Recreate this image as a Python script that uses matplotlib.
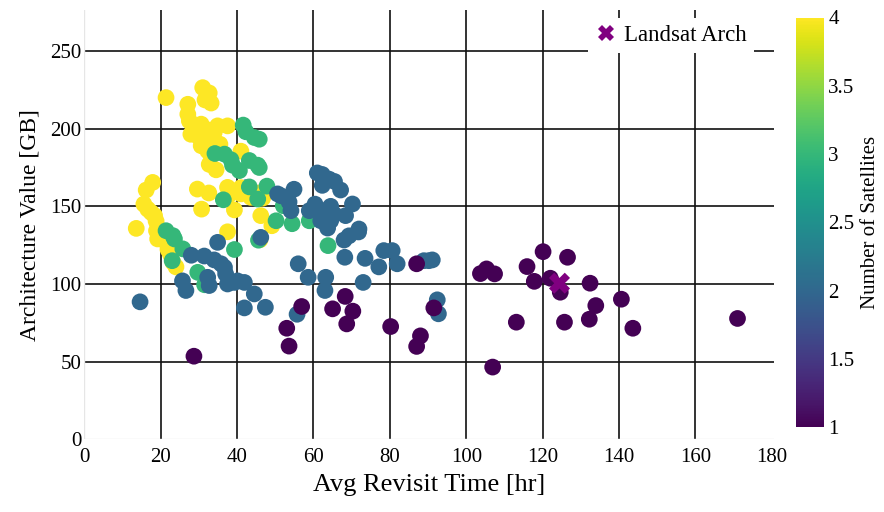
import matplotlib
matplotlib.use("Agg")
import matplotlib.pyplot as plt
import numpy as np
from matplotlib.lines import Line2D

plt.rcParams["font.family"] = ["Liberation Serif", "DejaVu Serif"]

# Architectures grouped by number of satellites: (avg revisit time [hr], value [GB])
sat4_revisit = [21.4, 31.0, 32.7, 31.6, 33.2, 27.1, 27.1, 27.5, 28.4, 30.6, 31.9, 34.9, 37.5,
                27.9, 30.1, 33.2, 34.0, 30.6, 32.3, 33.2, 32.7, 34.5, 41.0, 29.6, 32.6, 37.5,
                37.7, 30.7, 39.3, 41.0, 43.8, 41.0, 43.6, 46.2, 49.1, 37.5, 46.0, 17.9, 16.2,
                15.6, 16.6, 17.5, 18.4, 18.8, 13.6, 18.9, 19.2, 21.0, 21.9, 22.5, 23.2, 24.0,
                45.5, 46.7, 29.5, 35.5]
sat4_value = [220, 226.4, 223, 218.5, 216.5, 215.7, 209.3, 205, 201.8, 202.9, 199.6, 201.8, 201.8,
              196.4, 194.3, 195.4, 197.5, 189, 185.7, 182.5, 177, 173.5, 185.5, 161.1, 158.6, 162.2,
              157, 148.2, 147.7, 162, 159.6, 158, 155.8, 144, 137.5, 133.6, 128.5, 165.4, 160.5,
              151.4, 148.2, 146.1, 144, 140.5, 135.8, 134.3, 129, 128, 122.3, 119.3, 114, 111,
              158.5, 155.3, 199, 190]

sat3_revisit = [41.6, 42.3, 44.5, 45.8, 34.2, 36.7, 38.4, 38.8, 40.6, 43.2, 45.4, 45.8, 43.2,
                47.8, 36.4, 45.4, 52.1, 50.2, 54.4, 58.9, 63.8, 39.3, 45.6, 21.4, 23.2, 23.6,
                25.8, 23.0, 29.7, 31.5]
sat3_value = [202.3, 198, 194.3, 193.2, 184, 183.6, 180, 176.5, 173, 179.5, 176.5, 175, 162.5,
              163, 154.2, 154.7, 150.4, 140.7, 138.8, 140.7, 124.7, 122.2, 128.2, 134.3, 131.1, 129,
              122.6, 115, 107.5, 99.5]

sat2_revisit = [14.6, 25.7, 26.6, 34.9, 28.0, 31.4, 34.0, 35.8, 36.7, 37.0, 32.3, 32.7, 37.5,
                40.1, 41.9, 44.5, 41.9, 47.4, 46.2, 50.6, 51.5, 54.9, 53.6, 54.1, 58.9,
                60.4, 62.8, 64.5, 65.4, 63.7, 61.9, 64.5, 63.7, 68.4, 61.0, 62.3, 64.1, 65.5,
                62.3, 67.1, 70.2, 71.9, 71.8, 68.0, 69.3, 68.2, 73.5, 77.1, 78.4, 80.6, 81.9,
                56.0, 58.6, 63.2, 63.0, 73.0, 55.7, 88.9, 90.2, 91.1, 92.4, 92.7, 39.3]
sat2_value = [88.5, 102, 95.8, 126.8, 118.5, 118, 115.5, 113, 110.7, 106.5, 104.3, 99, 100,
              102, 101, 93.6, 84.6, 85, 130, 158, 156.8, 161, 152.8, 147.2, 147.2,
              151.4, 147.2, 150, 145, 143, 140.7, 140.7, 136, 144, 171.5, 170.5, 167.5, 166,
              163.5, 160.5, 151.5, 135.4, 133.5, 128.3, 131, 117.2, 116.5, 111, 121.5, 121.5, 113,
              113, 104.3, 104.3, 95.8, 101, 80.5, 115, 115, 115.5, 89.8, 80.8, 101]

# two-satellite design sitting beneath the dense 3/4-satellite cluster
sat2_under_revisit = [42.4]
sat2_under_value = [162]

sat1_revisit = [28.7, 53.0, 53.6, 56.9, 65.0, 68.3, 70.3, 68.7, 80.2, 87.0, 88.0, 87.0, 91.5,
                103.7, 105.3, 107.4, 115.9, 120.1, 126.5, 117.8, 122.0, 124.6, 132.4, 133.9,
                140.6, 113.1, 125.7, 132.2, 143.6, 171.0, 106.9]
sat1_value = [53.5, 71.5, 60, 85.5, 84, 92, 82.5, 74.3, 72.6, 113, 66.6, 59.8, 84.6,
              106.7, 109.7, 106.5, 111.2, 120.8, 117.2, 101.7, 103.7, 94.7, 100.5, 86.1,
              90.2, 75.4, 75.4, 77.3, 71.5, 77.8, 46.5]

landsat_revisit = [124.4]
landsat_value = [100.5]

revisit = np.array(sat2_under_revisit + sat4_revisit + sat3_revisit + sat2_revisit + sat1_revisit)
value = np.array(sat2_under_value + sat4_value + sat3_value + sat2_value + sat1_value)
n_sats = np.array([2] * len(sat2_under_revisit) + [4] * len(sat4_revisit)
                  + [3] * len(sat3_revisit) + [2] * len(sat2_revisit)
                  + [1] * len(sat1_revisit))

W, H = 884, 512
fig = plt.figure(figsize=(W / 100, H / 100), dpi=100)
ax = fig.add_axes([84.3 / W, 1 - 439.3 / H, (773.8 - 84.3) / W, (439.3 - 10) / H])

ax.set_xlim(0, 180.5)
ax.set_ylim(0, 276.4)
for s in ax.spines.values():
    s.set_visible(False)

# grid
for gx in range(20, 180, 20):
    ax.axvline(gx, color="#111111", lw=1.2, zorder=0)
for gy in range(50, 300, 50):
    ax.axhline(gy, color="#111111", lw=1.2, zorder=0)
ax.axvline(0, color="#e6e6e6", lw=1.0, zorder=0)
ax.axhline(0, color="#e6e6e6", lw=1.0, zorder=0)

sc = ax.scatter(revisit, value, c=n_sats, cmap="viridis", vmin=1, vmax=4,
                s=145, edgecolors="none", zorder=2)
ax.scatter(landsat_revisit, landsat_value, marker="X", color="#800080", s=230,
           edgecolors="none", zorder=3)

ax.set_xticks(range(0, 181, 20))
ax.set_yticks(range(0, 251, 50))
ax.tick_params(axis="x", length=0, labelsize=15, pad=6)
ax.tick_params(axis="y", length=0, labelsize=15, pad=2)
ax.set_xlabel("Avg Revisit Time [hr]", fontsize=19, labelpad=5)
ax.set_ylabel("Architecture Value [GB]", fontsize=17, labelpad=7)

# legend
handle = Line2D([], [], marker="X", color="#800080", linestyle="none", markersize=12,
                markeredgewidth=0)
leg = fig.legend([handle], ["Landsat Arch"], loc="upper right",
                 bbox_to_anchor=(754 / W, 1 - 18 / H), frameon=True, fancybox=False,
                 framealpha=1, facecolor="white", edgecolor="none", fontsize=16.5,
                 handletextpad=0.3, borderpad=0.3, handlelength=1.0, borderaxespad=0)

# colorbar
cax = fig.add_axes([796 / W, 1 - 427 / H, 28 / W, (427 - 17.5) / H])
cb = fig.colorbar(sc, cax=cax, ticks=[1, 1.5, 2, 2.5, 3, 3.5, 4])
cb.ax.set_yticklabels(["1", "1.5", "2", "2.5", "3", "3.5", "4"])
cb.outline.set_visible(False)
cb.ax.tick_params(length=0, labelsize=15, pad=3)
cb.set_label("Number of Satellites", fontsize=15, labelpad=5)

fig.savefig("out.png", dpi=100)
